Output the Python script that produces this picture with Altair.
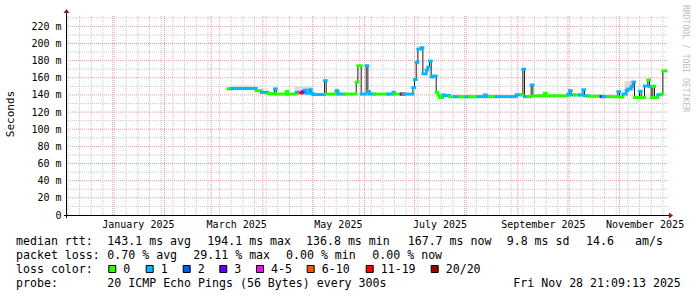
import altair as alt
import pandas as pd

MONO = "DejaVu Sans Mono"

# ---------------- data ----------------
START = "2024-12-03T21:09:13"
END = "2025-11-28T21:09:13"

med_date = [
    "2025-03-11", "2025-03-13", "2025-03-28", "2025-03-31", "2025-04-04", "2025-04-08", "2025-04-09", "2025-04-15", "2025-04-16", "2025-04-21",
    "2025-04-23", "2025-04-24", "2025-04-25", "2025-04-26", "2025-04-27", "2025-04-29", "2025-04-30", "2025-05-01", "2025-05-08", "2025-05-09",
    "2025-05-15", "2025-05-16", "2025-05-20", "2025-05-27", "2025-05-28", "2025-05-30", "2025-06-02", "2025-06-03", "2025-06-04", "2025-06-07",
    "2025-06-15", "2025-06-18", "2025-06-19", "2025-06-23", "2025-06-24", "2025-06-25", "2025-06-30", "2025-07-01", "2025-07-02", "2025-07-03",
    "2025-07-05", "2025-07-06", "2025-07-08", "2025-07-09", "2025-07-10", "2025-07-11", "2025-07-12", "2025-07-14", "2025-07-15", "2025-07-16",
    "2025-07-18", "2025-07-19", "2025-07-22", "2025-07-25", "2025-07-28", "2025-08-01", "2025-08-03", "2025-08-08", "2025-08-12", "2025-08-13",
    "2025-08-15", "2025-08-19", "2025-08-31", "2025-09-03", "2025-09-04", "2025-09-05", "2025-09-07", "2025-09-09", "2025-09-10", "2025-09-17",
    "2025-09-18", "2025-10-01", "2025-10-02", "2025-10-03", "2025-10-05", "2025-10-08", "2025-10-10", "2025-10-11", "2025-10-13", "2025-10-21",
    "2025-10-22", "2025-10-25", "2025-10-31", "2025-11-01", "2025-11-03", "2025-11-05", "2025-11-06", "2025-11-08", "2025-11-09", "2025-11-10",
    "2025-11-13", "2025-11-14", "2025-11-16", "2025-11-18", "2025-11-19", "2025-11-20", "2025-11-21", "2025-11-22", "2025-11-24", "2025-11-26",
    "2025-11-27",
]
med_value = [
    147, 147.5, 145, 143, 141.5, 147, 141, 144, 141, 143,
    142.5, 142.5, 144, 145.5, 142, 146, 142, 140.5, 156.6, 141,
    145, 141, 141, 155, 174, 141, 174, 144, 141, 141,
    141, 143, 141, 141, 141, 141, 148.5, 158, 178, 193.5,
    195, 164.6, 169, 172.4, 179.4, 161, 162, 143, 139.8, 137,
    140, 139.4, 138, 137.9, 137.9, 137.9, 137.9, 138, 140, 138,
    138, 138, 140.2, 140, 170, 138, 138, 151.6, 139, 142,
    139, 141, 145, 140, 140, 140, 146, 139, 138.5, 138,
    138, 138, 143.8, 137.5, 141, 145, 147, 150, 155, 137,
    144.3, 137, 150.4, 157.4, 150, 137, 150, 137, 140.3, 141,
    168,
]
med_loss = [
    "0", "1", "0", "1", "0", "1", "0", "0", "0", "1",
    "6-10", "11-19", "3", "1", "1", "1", "1", "1", "1", "0",
    "1", "1", "0", "0", "0", "1", "1", "1", "1", "0",
    "1", "1", "0", "3", "6-10", "1", "1", "1", "1", "1",
    "1", "1", "1", "1", "1", "1", "1", "0", "0", "0",
    "1", "1", "0", "1", "0", "1", "0", "1", "1", "1",
    "0", "1", "1", "0", "1", "1", "0", "1", "0", "0",
    "0", "1", "1", "1", "0", "1", "1", "1", "0", "3",
    "1", "0", "1", "0", "1", "1", "1", "1", "1", "0",
    "1", "0", "1", "0", "1", "0", "0", "0", "1", "0",
    "0",
]

smoke_start = ["2025-03-11", "2025-04-20", "2025-05-13", "2025-07-25", "2025-09-20", "2025-11-04"]
smoke_end = ["2025-03-28", "2025-05-01", "2025-05-18", "2025-08-28", "2025-10-24", "2025-11-10"]
smoke_lo = [147, 142, 141, 138, 138.5, 145]
smoke_hi = [151, 150, 144, 140.5, 141, 156]

loss_names = ["0", "1", "2", "3", "4-5", "6-10", "11-19", "20/20"]
loss_colors = ["#26ff00", "#00b8ff", "#0059ff", "#5e00ff", "#ff00ff", "#ff5500", "#ff0000", "#a10000"]

x_label_dates = ["2025-01-16", "2025-03-16", "2025-05-16", "2025-07-16", "2025-09-16", "2025-11-16"]
y_label_values = list(range(0, 221, 20))

stat_lines = [
    ["median rtt:", "143.1 ms avg", "194.1 ms max", "136.8 ms min", "167.7 ms now", "9.8 ms sd", "14.6", "am/s"],
    ["packet loss:", "0.70 % avg", "29.11 % max", "0.00 % min", "0.00 % now"],
    ["loss color:"],
    ["probe:", "20 ICMP Echo Pings (56 Bytes) every 300s", "Fri Nov 28 21:09:13 2025"],
]

# ---------------- layout ----------------
PL, PT = 66, 15          # plot origin in page pixels
W, H = 600, 200
stat_x = [
    [16, 107.3, 207.3, 306, 407.7, 506.7, 586, 635],
    [16, 107.3, 193.3, 286, 372.3],
    [16],
    [16, 107.3, 513.3],
]
stat_y = [245.3, 259.0, 272.7, 286.6]
box_x = [108.3, 145.7, 182.7, 219.3, 256, 306.7, 365.7, 430.7]


def ms(s):
    return int(pd.Timestamp(s, tz="UTC").value // 10**6)


xs = alt.Scale(type="utc", domain=[ms(START), ms(END)], nice=False)
ys = alt.Scale(domain=[0, 233.2], nice=False, zero=False)

X_AXIS = alt.Axis(
    values=[ms(d) for d in x_label_dates],
    labelExpr="utcFormat(datum.value, '%B %Y')",
    domain=False, ticks=False, grid=False, title=None,
    labelFont=MONO, labelFontSize=10, labelColor="#000000",
    labelPadding=12.5, labelBaseline="alphabetic", labelAlign="center",
    labelOverlap=False, labelFlush=False, labelBound=False)
Y_AXIS = alt.Axis(
    values=y_label_values,
    labelExpr="datum.value == 0 ? '0' : datum.value + ' m'",
    domain=False, ticks=False, grid=False, title=None,
    labelFont=MONO, labelFontSize=10, labelColor="#000000",
    labelPadding=5, labelOverlap=False, labelBound=False, labelFlush=False)


def X(field):
    return alt.X(field, scale=xs, axis=X_AXIS)


def Y(field):
    return alt.Y(field, scale=ys, axis=Y_AXIS)


# segments
t_ms = [ms(d) for d in med_date]
seg = pd.DataFrame({
    "t": t_ms,
    "t2": t_ms[1:] + [ms(END)],
    "v": med_value,
    "loss": med_loss,
})
line_df = pd.DataFrame({"t": t_ms + [ms(END)], "v": med_value + [med_value[-1]]})
smoke_df = pd.DataFrame({
    "t": [ms(d) for d in smoke_start],
    "t2": [ms(d) for d in smoke_end],
    "v": smoke_lo,
    "hi": smoke_hi,
})

GRID_GREY = "#c8c8c8"
GRID_RED = "#e99a9a"

layers = []

# main layer first (defines axes)
layers.append(alt.Chart(line_df).mark_line(interpolate="step-after", color="#202020", strokeWidth=1,
                                           opacity=0).encode(x=X("t:T"), y=Y("v:Q")))

# y grid
ygm = pd.DataFrame({"v": list(range(10, 231, 20))})
ygM = pd.DataFrame({"v": list(range(20, 221, 20))})
layers.append(alt.Chart(ygm).mark_rule(color=GRID_GREY, strokeDash=[1, 1], strokeWidth=1).encode(
    y=Y("v:Q"), x=alt.value(0), x2=alt.value(W + 2)))
layers.append(alt.Chart(ygM).mark_rule(color=GRID_RED, strokeDash=[1, 1], strokeWidth=1).encode(
    y=Y("v:Q"), x=alt.value(0), x2=alt.value(W + 2)))

# x grid
weeks = pd.date_range("2024-12-05", "2025-11-27", freq="7D", tz="UTC")
months = pd.date_range("2025-01-01", "2025-11-01", freq="MS", tz="UTC")
xgw = pd.DataFrame({"t": [int(d.value // 10**6) for d in weeks]})
xgM = pd.DataFrame({"t": [int(d.value // 10**6) for d in months]})
layers.append(alt.Chart(xgw).mark_rule(color=GRID_GREY, strokeDash=[1, 1], strokeWidth=1).encode(
    x=X("t:T"), y=alt.value(1), y2=alt.value(H)))
layers.append(alt.Chart(xgM).mark_rule(color=GRID_RED, strokeDash=[1, 1], strokeWidth=1).encode(
    x=X("t:T"), y=alt.value(1), y2=alt.value(H)))

# smoke
layers.append(alt.Chart(smoke_df).mark_rect(color="#dcdcdc").encode(
    x=X("t:T"), x2="t2:T", y=Y("v:Q"), y2="hi:Q"))

# median line (dark)
layers.append(alt.Chart(line_df).mark_line(interpolate="step-after", color="#202020", strokeWidth=1).encode(
    x=X("t:T"), y=Y("v:Q")))

# coloured loss segments
layers.append(alt.Chart(seg).mark_rule(strokeWidth=3, strokeCap="square").encode(
    x=X("t:T"), x2="t2:T", y=Y("v:Q"),
    color=alt.Color("loss:N", scale=alt.Scale(domain=loss_names, range=loss_colors), legend=None)))

one = pd.DataFrame({"a": [0]})

# axis lines and arrows
layers.append(alt.Chart(one).mark_rule(color="#000000", strokeWidth=1).encode(
    x=alt.value(0.5), y=alt.value(-4), y2=alt.value(H + 3)))
layers.append(alt.Chart(one).mark_rule(color="#000000", strokeWidth=1).encode(
    x=alt.value(-2), x2=alt.value(W + 4), y=alt.value(H + 0.5)))
layers.append(alt.Chart(one).mark_point(shape="M-1,0.7L1,0.7L0,-0.7Z", filled=True, color="#a01818",
                                        size=36, opacity=1).encode(x=alt.value(0.5), y=alt.value(-4)))
layers.append(alt.Chart(one).mark_point(shape="M-0.7,-1L-0.7,1L0.7,0Z", filled=True, color="#a01818",
                                        size=36, opacity=1).encode(x=alt.value(W + 5), y=alt.value(H + 0.5)))


def txt(s, x, y, size=11.6, color="#000000", angle=0, align="left", baseline="alphabetic"):
    return alt.Chart(one).mark_text(text=s, font=MONO, fontSize=size, color=color, angle=angle,
                                    align=align, baseline=baseline).encode(
        x=alt.value(x - PL), y=alt.value(y - PT))


# y title and watermark
layers.append(txt("Seconds", 11, 114, size=11, angle=270, align="center", baseline="middle"))
layers.append(txt("RRDTOOL / TOBI OETIKER", 685, 5, size=8.1, color="#bdbdbd", angle=90,
                  align="left", baseline="middle"))

# statistics lines
for li, parts in enumerate(stat_lines):
    for pi, s in enumerate(parts):
        layers.append(txt(s, stat_x[li][pi], stat_y[li]))

# loss colour boxes
for i, (name, col) in enumerate(zip(loss_names, loss_colors)):
    bx = box_x[i]
    layers.append(alt.Chart(one).mark_rect(fill=col, stroke="#000000", strokeWidth=1).encode(
        x=alt.value(bx + 0.5 - PL), x2=alt.value(bx + 7.5 - PL),
        y=alt.value(265.5 - PT), y2=alt.value(272.5 - PT)))
    layers.append(txt(name, bx + 15, stat_y[2]))

chart = alt.layer(*layers).properties(
    width=W, height=H,
    padding={"left": PL, "top": PT, "right": 697 - PL - W, "bottom": 297 - PT - H},
    autosize=alt.AutoSizeParams(type="none"),
    background="white",
).configure_view(stroke=None)

chart.save("out.html", embed_options={"renderer": "svg", "actions": False})
